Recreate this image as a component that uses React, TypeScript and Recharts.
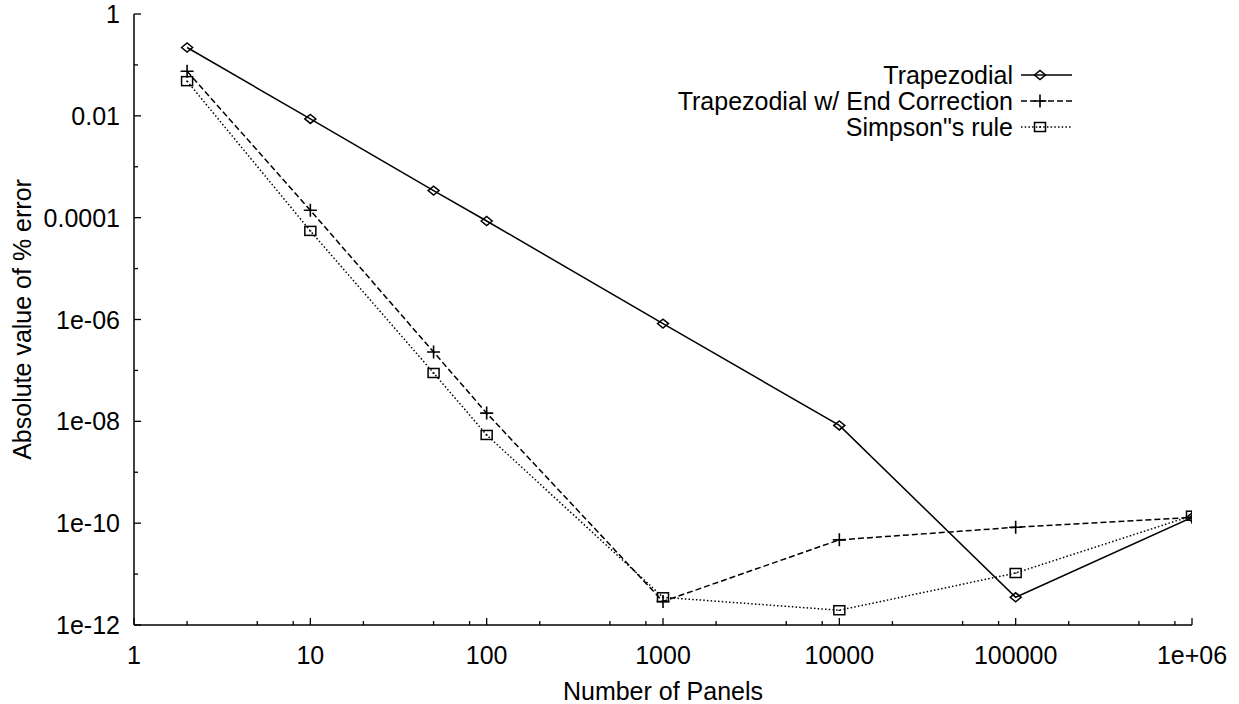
import { LineChart, Line, XAxis, YAxis, Legend } from "recharts";

const panels = [2, 10, 50, 100, 1000, 10000, 100000, 1000000];
const trapezoidal = [0.22, 0.0087, 3.4e-4, 8.6e-5, 8.3e-7, 8.3e-9, 3.5e-12, 1.3e-10];
const endCorrection = [0.075, 1.4e-4, 2.3e-7, 1.45e-8, 2.9e-12, 4.7e-11, 8.3e-11, 1.3e-10];
const simpson = [0.048, 5.5e-5, 8.9e-8, 5.4e-9, 3.5e-12, 1.95e-12, 1.05e-11, 1.4e-10];

const xMajor = [1, 10, 100, 1000, 10000, 100000, 1000000];
const xMajorLabels = ["1", "10", "100", "1000", "10000", "100000", "1e+06"];
const xMinorSteps = [2, 5, 8];
const yMajor = [1, 1e-2, 1e-4, 1e-6, 1e-8, 1e-10, 1e-12];
const yMajorLabels = ["1", "0.01", "0.0001", "1e-06", "1e-08", "1e-10", "1e-12"];
const yMinor = [1e-1, 1e-3, 1e-5, 1e-7, 1e-9, 1e-11];

const seriesNames = ["Trapezodial", "Trapezodial w/ End Correction", 'Simpson"s rule'];

const FONT = "'Liberation Sans', Arial, Helvetica, sans-serif";
const FS = 25;

const data = panels.map((n, i) => ({
  n,
  trap: trapezoidal[i],
  endc: endCorrection[i],
  simp: simpson[i],
}));

const xMinor = xMajor.slice(0, -1).flatMap((d) => xMinorSteps.map((s) => d * s));
const xTicks = [...xMajor, ...xMinor];
const yTicks = [...yMajor, ...yMinor];

const xLabel = (v: number) => {
  const i = xMajor.indexOf(v);
  return i >= 0 ? xMajorLabels[i] : null;
};
const yLabel = (v: number) => {
  const i = yMajor.indexOf(v);
  return i >= 0 ? yMajorLabels[i] : null;
};

const BottomTick = (props: any) => {
  const { x, y, payload } = props;
  const label = xLabel(payload.value);
  const len = label !== null ? 7 : 4;
  return (
    <g>
      <line x1={x} y1={y} x2={x} y2={y - len} stroke="#000" strokeWidth={1.3} />
      {label !== null && (
        <text x={x} y={y + 39} textAnchor="middle" fontSize={FS} fontFamily={FONT} fill="#000">
          {label}
        </text>
      )}
    </g>
  );
};

const TopTick = (props: any) => {
  const { x, y, payload } = props;
  const len = xLabel(payload.value) !== null ? 7 : 4;
  return <line x1={x} y1={y} x2={x} y2={y + len} stroke="#000" strokeWidth={1.3} />;
};

const LeftTick = (props: any) => {
  const { x, y, payload } = props;
  const label = yLabel(payload.value);
  const len = label !== null ? 7 : 4;
  return (
    <g>
      <line x1={x} y1={y} x2={x + len} y2={y} stroke="#000" strokeWidth={1.3} />
      {label !== null && (
        <text x={x - 14} y={y + 9} textAnchor="end" fontSize={FS} fontFamily={FONT} fill="#000">
          {label}
        </text>
      )}
    </g>
  );
};

const RightTick = (props: any) => {
  const { x, y, payload } = props;
  const len = yLabel(payload.value) !== null ? 7 : 4;
  return <line x1={x} y1={y} x2={x - len} y2={y} stroke="#000" strokeWidth={1.3} />;
};

const Diamond = ({ cx, cy }: { cx: number; cy: number }) => (
  <path
    d={`M${cx - 5.5},${cy} L${cx},${cy - 4.5} L${cx + 5.5},${cy} L${cx},${cy + 4.5} Z`}
    fill="none"
    stroke="#000"
    strokeWidth={1.5}
  />
);

const Plus = ({ cx, cy }: { cx: number; cy: number }) => (
  <path
    d={`M${cx - 6.5},${cy} H${cx + 6.5} M${cx},${cy - 6.5} V${cy + 6.5}`}
    fill="none"
    stroke="#000"
    strokeWidth={1.6}
  />
);

const Box = ({ cx, cy }: { cx: number; cy: number }) => (
  <g>
    <rect x={cx - 5.5} y={cy - 4.5} width={11} height={9} fill="none" stroke="#000" strokeWidth={1.5} />
    <rect x={cx - 1} y={cy - 0.5} width={2} height={1.2} fill="#000" />
  </g>
);

const markers = [Diamond, Plus, Box];
const dashes = ["none", "6 3", "1.5 2.2"];

const LegendBox = () => (
  <svg width={1239} height={704} style={{ position: "absolute", left: 0, top: 0 }}>
    {seriesNames.map((name, i) => {
      const cy = 75 + i * 26;
      const M = markers[i];
      return (
        <g key={name}>
          <text x={1013} y={cy + 9} textAnchor="end" fontSize={FS} fontFamily={FONT} fill="#000">
            {name}
          </text>
          <line
            x1={1021}
            y1={cy}
            x2={1072}
            y2={cy}
            stroke="#000"
            strokeWidth={1.5}
            strokeDasharray={dashes[i]}
          />
          <M cx={1040} cy={cy} />
        </g>
      );
    })}
  </svg>
);

const App = () => {
  return (
    <div style={{ position: "absolute", left: 0, top: 0, background: "#fff" }}>
      <LineChart
        width={1239}
        height={704}
        data={data}
        margin={{ top: 14, right: 47, left: 0, bottom: 0 }}
        style={{ fontFamily: FONT }}
      >
        <XAxis
          dataKey="n"
          type="number"
          scale="log"
          domain={[1, 1000000]}
          allowDataOverflow
          ticks={xTicks}
          interval={0}
          height={79}
          tickSize={0}
          tickMargin={0}
          tick={<BottomTick />}
          axisLine={{ stroke: "#000", strokeWidth: 1.5 }}
          label={{ value: "Number of Panels", position: "insideBottom", offset: 4, fontSize: FS, fontFamily: FONT, fill: "#000" }}
        />
        <XAxis
          xAxisId="top"
          orientation="top"
          type="number"
          scale="log"
          domain={[1, 1000000]}
          allowDataOverflow
          ticks={xTicks}
          interval={0}
          height={0}
          tickSize={0}
          tickMargin={0}
          tick={<TopTick />}
          axisLine={{ stroke: "#000", strokeWidth: 1.5 }}
        />
        <YAxis
          type="number"
          scale="log"
          domain={[1e-12, 1]}
          allowDataOverflow
          ticks={yTicks}
          interval={0}
          width={134}
          tickSize={0}
          tickMargin={0}
          tick={<LeftTick />}
          axisLine={{ stroke: "#000", strokeWidth: 1.5 }}
          label={{ value: "Absolute value of % error", angle: -90, position: "insideLeft", offset: 22, fontSize: FS, fontFamily: FONT, fill: "#000", style: { textAnchor: "middle" } }}
        />
        <YAxis
          yAxisId="right"
          orientation="right"
          type="number"
          scale="log"
          domain={[1e-12, 1]}
          allowDataOverflow
          ticks={yTicks}
          interval={0}
          width={0}
          tickSize={0}
          tickMargin={0}
          tick={<RightTick />}
          axisLine={{ stroke: "#000", strokeWidth: 1.5 }}
        />
        <Line
          dataKey="trap"
          type="linear"
          stroke="#000"
          strokeWidth={1.5}
          isAnimationActive={false}
          dot={(p: any) => <Diamond key={`d${p.index}`} cx={p.cx} cy={p.cy} />}
        />
        <Line
          dataKey="endc"
          type="linear"
          stroke="#000"
          strokeWidth={1.5}
          strokeDasharray={dashes[1]}
          isAnimationActive={false}
          dot={(p: any) => <Plus key={`p${p.index}`} cx={p.cx} cy={p.cy} />}
        />
        <Line
          dataKey="simp"
          type="linear"
          stroke="#000"
          strokeWidth={1.5}
          strokeDasharray={dashes[2]}
          isAnimationActive={false}
          dot={(p: any) => <Box key={`b${p.index}`} cx={p.cx} cy={p.cy} />}
        />
        <Legend
          layout="horizontal"
          verticalAlign="middle"
          align="center"
          wrapperStyle={{ left: 0, top: 0, width: 1239, height: 704, pointerEvents: "none" }}
          content={() => <LegendBox />}
        />
      </LineChart>
    </div>
  );
};

export default App;
